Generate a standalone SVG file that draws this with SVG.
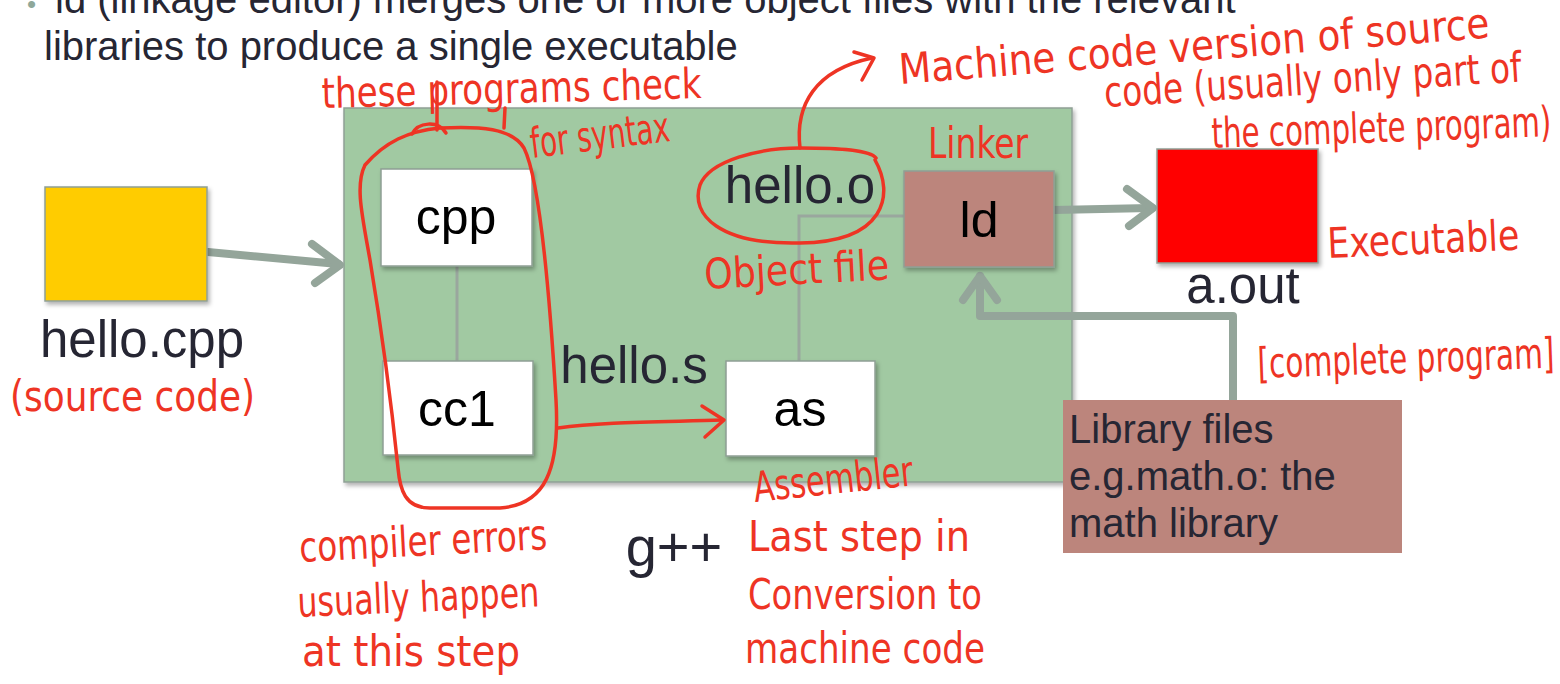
<svg xmlns="http://www.w3.org/2000/svg" width="1560" height="684" viewBox="0 0 1560 684">
<defs>
<filter id="sh" x="-10%" y="-10%" width="130%" height="130%">
<feDropShadow dx="2" dy="3" stdDeviation="2" flood-color="#000" flood-opacity="0.3"/>
</filter>
<style>
.t{font-family:"Liberation Sans",Arial,sans-serif;fill:#262633}
.lbl{font-family:"Liberation Sans",Arial,sans-serif;fill:#000;font-size:50px;text-anchor:middle}
.box{stroke:#8f9f95;stroke-width:1.5;filter:url(#sh)}
.thick{fill:none;stroke:#94a59a;stroke-width:8;stroke-linecap:round;stroke-linejoin:round}
.thin{fill:none;stroke:#9aa79e;stroke-width:3}
.ink{fill:none;stroke:#ee3424;stroke-width:3.5;stroke-linecap:round;stroke-linejoin:round}
.hw{font-family:"DejaVu Sans Condensed","Liberation Sans Narrow",sans-serif;fill:#ee3424;font-size:42px}
</style>
</defs>
<rect width="1560" height="684" fill="#fff"/>

<g id="heading">
<text class="t" x="27" y="13" font-size="40"><tspan fill="#8fa89a" font-size="26">•</tspan><tspan x="55">ld (linkage editor) merges one or more object files with the relevant</tspan></text>
<text class="t" x="44" y="60" font-size="40">libraries to produce a single executable</text>
</g>

<g id="gpp">
<rect class="box" x="344" y="108" width="728" height="374" fill="#a1c9a2"/>
<text class="t" x="674" y="566" font-size="56" text-anchor="middle">g++</text>
</g>

<g id="connectors">
<path class="thick" d="M208,252 L338,264"/>
<path class="thick" d="M312,244 L340,265 L315,283"/>
<path class="thin" d="M457,266 L457,361"/>
<path class="thin" d="M799,361 L799,216 L904,216"/>
<path class="thick" d="M1054,210 L1150,208"/>
<path class="thick" d="M1127,189 L1153,208 L1129,226"/>
<path class="thick" d="M1233,400 L1233,316 L980,316 L980,276"/>
<path class="thick" d="M963,300 L980,276 L997,300"/>
</g>

<g id="hello-cpp">
<rect class="box" x="45" y="187" width="162" height="114" fill="#ffcc00"/>
<text class="t" x="142" y="357" font-size="51" text-anchor="middle">hello.cpp</text>
</g>

<g id="cpp">
<rect class="box" x="381" y="169" width="151" height="97" fill="#fff"/>
<text class="lbl" x="456" y="234">cpp</text>
</g>

<g id="cc1">
<rect class="box" x="383" y="361" width="150" height="94" fill="#fff"/>
<text class="lbl" x="457" y="426">cc1</text>
</g>

<g id="hello-s">
<text class="t" x="634" y="383" font-size="51" text-anchor="middle">hello.s</text>
</g>

<g id="as">
<rect class="box" x="726" y="361" width="149" height="95" fill="#fff"/>
<text class="lbl" x="800" y="426">as</text>
</g>

<g id="hello-o">
<text class="t" x="800" y="203" font-size="51" text-anchor="middle">hello.o</text>
</g>

<g id="ld">
<rect class="box" x="904" y="171" width="150" height="96" fill="#bc857c"/>
<text class="lbl" x="979" y="237">ld</text>
</g>

<g id="a-out">
<rect class="box" x="1157" y="149" width="161" height="114" fill="#ff0000"/>
<text class="t" x="1243" y="303" font-size="51" text-anchor="middle">a.out</text>
</g>

<g id="library">
<rect x="1063" y="400" width="339" height="153" fill="#bc857c"/>
<text class="t" x="1069" y="443" font-size="40">Library files</text>
<text class="t" x="1069" y="490" font-size="40">e.g.math.o: the</text>
<text class="t" x="1069" y="537" font-size="40">math library</text>
</g>

<g id="annotations">
<path class="ink" d="M365,165 C385,142 408,131 440,128 C480,126 512,128 524,148 C540,180 550,300 556,400 C560,470 545,505 500,508 L430,508 C405,508 400,490 398,468 C390,390 380,320 370,260 C362,215 355,185 365,165"/>
<path class="ink" d="M412,134 C418,122 438,120 446,133"/>
<path class="ink" d="M437,82 L437,130"/>
<path class="ink" d="M505,108 L504,128"/>
<path class="ink" d="M558,428 C600,422 660,422 722,420"/>
<path class="ink" d="M702,406 L724,420 L705,437"/>
<path class="ink" d="M875,160 C895,195 885,242 800,243 C720,245 690,215 700,185 C710,160 760,148 800,148 C840,148 870,150 876,158"/>
<path class="ink" d="M800,148 C795,105 815,70 872,58"/>
<path class="ink" d="M854,52 L874,58 L862,80"/>

<text class="hw" x="322" y="108" textLength="380" lengthAdjust="spacingAndGlyphs" transform="rotate(-1.5 322 108)">these programs check</text>
<text class="hw" x="532" y="158" font-size="34" textLength="140" lengthAdjust="spacingAndGlyphs" transform="rotate(-7 532 158)">for syntax</text>
<text class="hw" x="900" y="84" textLength="592" lengthAdjust="spacingAndGlyphs" transform="rotate(-4.5 900 84)">Machine code version of source</text>
<text class="hw" x="1105" y="107" textLength="418" lengthAdjust="spacingAndGlyphs" transform="rotate(-3.5 1105 107)">code (usually only part of</text>
<text class="hw" x="1212" y="148" textLength="340" lengthAdjust="spacingAndGlyphs" transform="rotate(-2 1212 148)">the complete program)</text>
<text class="hw" x="928" y="158" textLength="100" lengthAdjust="spacingAndGlyphs">Linker</text>
<text class="hw" x="705" y="289" textLength="185" lengthAdjust="spacingAndGlyphs" transform="rotate(-3 705 289)">Object file</text>
<text class="hw" x="1328" y="258" textLength="192" lengthAdjust="spacingAndGlyphs" transform="rotate(-2.5 1328 258)">Executable</text>
<text class="hw" x="1258" y="378" textLength="297" lengthAdjust="spacingAndGlyphs" transform="rotate(-2 1258 378)">[complete program]</text>
<text class="hw" x="10" y="411" textLength="245" lengthAdjust="spacingAndGlyphs">(source code)</text>
<text class="hw" x="755" y="502" textLength="160" lengthAdjust="spacingAndGlyphs" transform="rotate(-6 755 502)">Assembler</text>
<text class="hw" x="748" y="551" textLength="222" lengthAdjust="spacingAndGlyphs">Last step in</text>
<text class="hw" x="748" y="609" textLength="234" lengthAdjust="spacingAndGlyphs">Conversion to</text>
<text class="hw" x="745" y="663" textLength="240" lengthAdjust="spacingAndGlyphs">machine code</text>
<text class="hw" x="300" y="562" textLength="248" lengthAdjust="spacingAndGlyphs" transform="rotate(-3 300 562)">compiler errors</text>
<text class="hw" x="298" y="617" textLength="242" lengthAdjust="spacingAndGlyphs" transform="rotate(-2.5 298 617)">usually happen</text>
<text class="hw" x="302" y="666" textLength="218" lengthAdjust="spacingAndGlyphs">at this step</text>
</g>
</svg>
